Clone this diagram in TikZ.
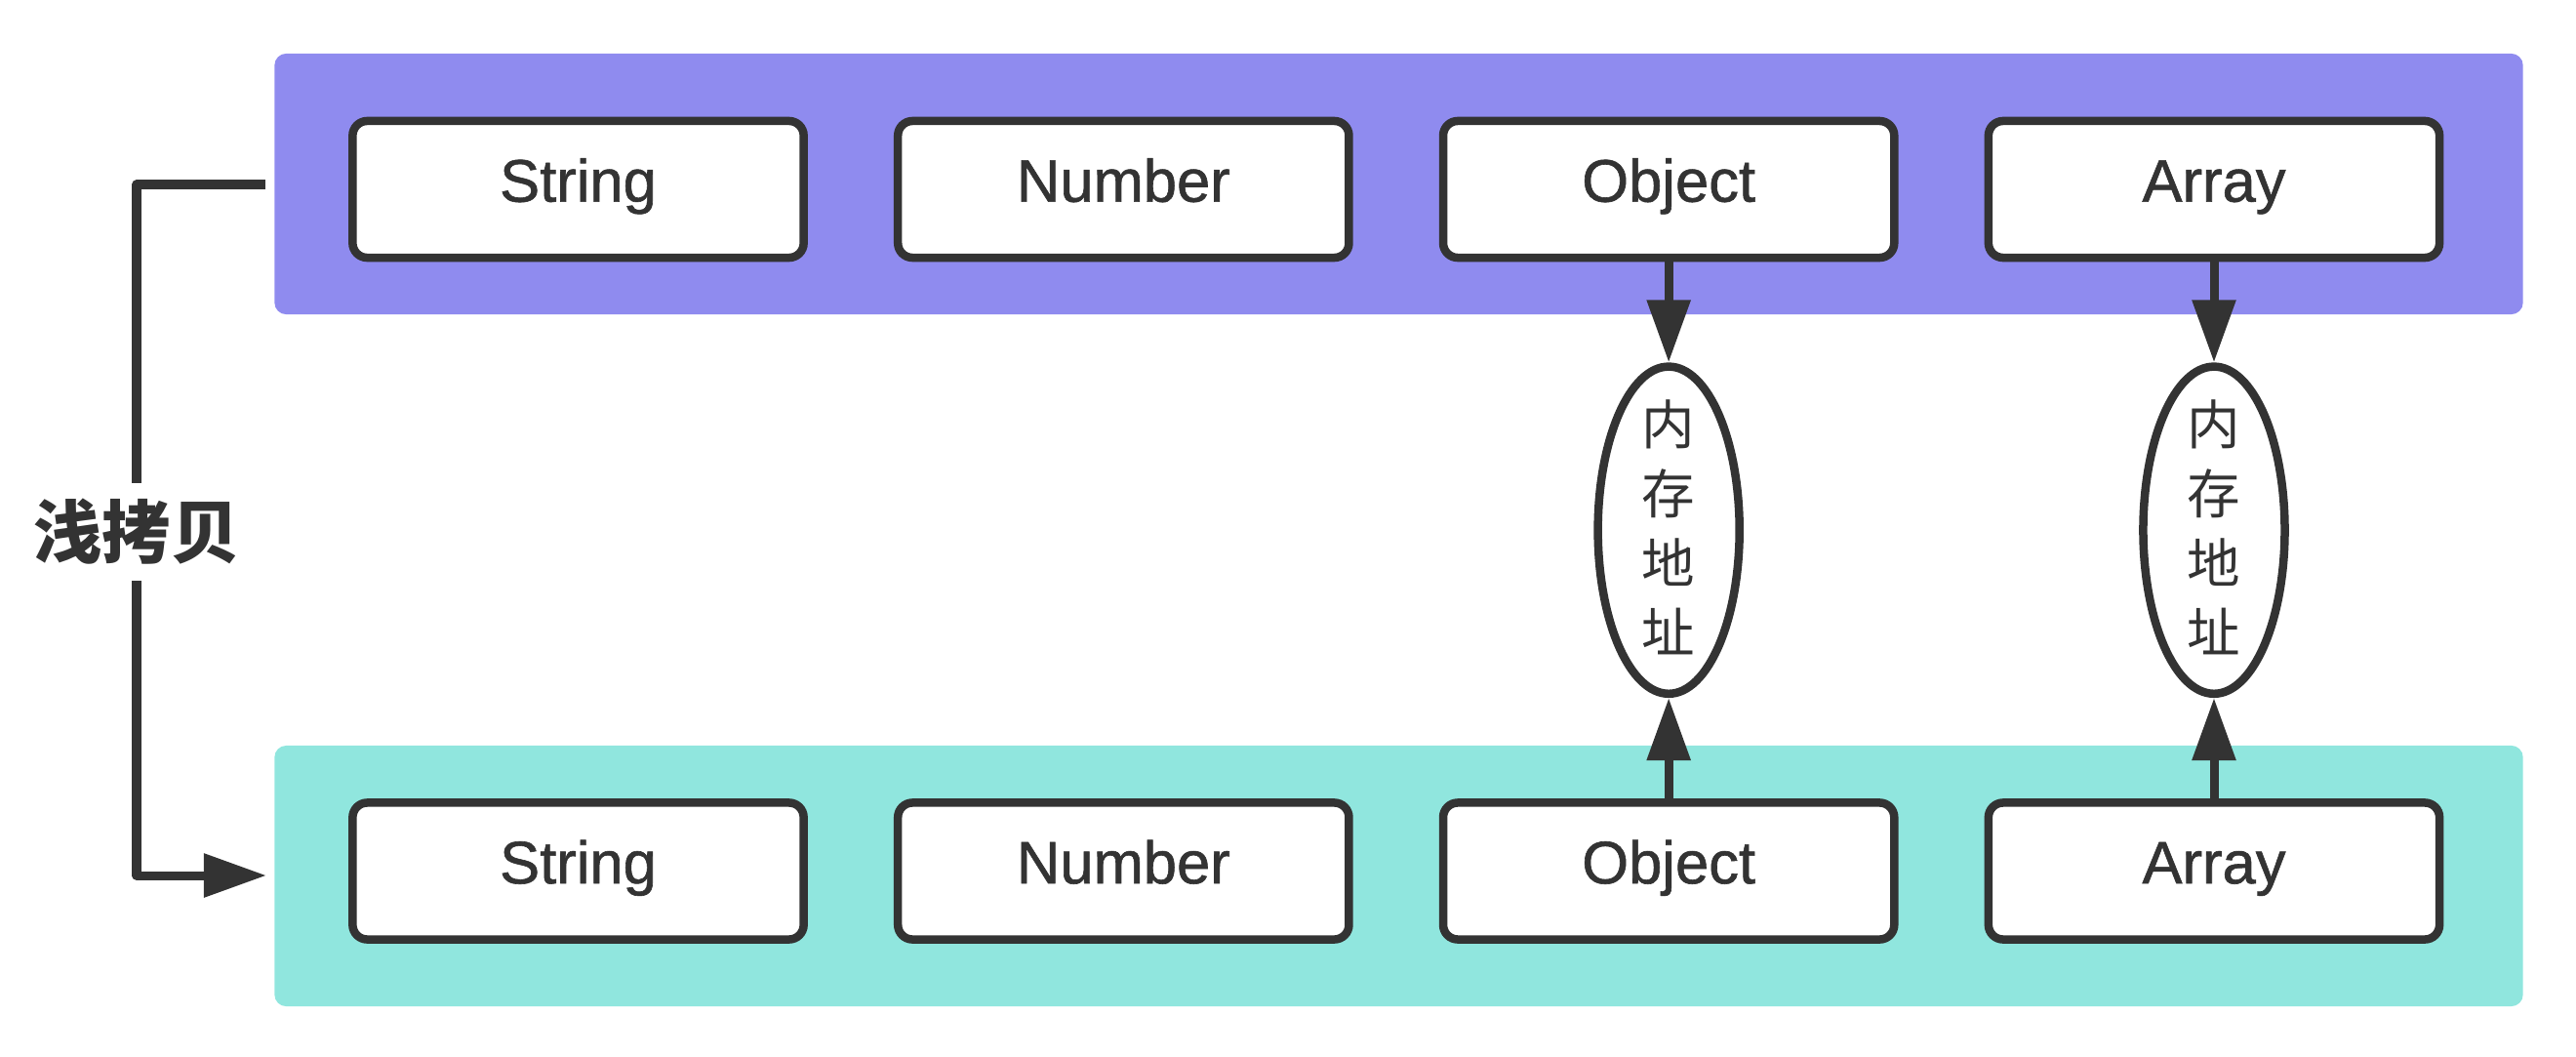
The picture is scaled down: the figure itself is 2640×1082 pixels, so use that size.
\documentclass[tikz,border=0pt]{standalone}
\usepackage{fontspec}
\setmainfont{Liberation Sans}
\newfontfamily\fieldfont{Liberation Sans}[FakeBold=1]
\newfontfamily\cjkfont{Noto Sans CJK SC}
\usetikzlibrary{positioning}
\usetikzlibrary{shapes, arrows.meta}
\definecolor{ink}{HTML}{333333}
\definecolor{origin}{HTML}{8F8BEF}
\definecolor{copied}{HTML}{90E6DE}

\begin{document}
\begin{tikzpicture}[x=0.01cm, y=-0.01cm, auto, node distance=0.88cm]
    \tikzstyle{panel} = [rectangle, rounded corners=0.12cm, inner sep=0pt,
    minimum width=23.03cm, minimum height=2.67cm];
    \tikzstyle{field} = [draw=ink, fill=white, rectangle, rounded corners=0.15cm,
    line width=0.085cm, minimum width=4.62cm, minimum height=1.4cm,
    text height=0.72em, text depth=0pt,
    text=ink, font=\fieldfont\fontsize{17.5}{20}\selectfont];
    \tikzstyle{addr} = [draw=ink, fill=white, ellipse, line width=0.085cm,
    minimum width=1.45cm, minimum height=3.35cm, inner sep=0pt];
    \tikzstyle{addrtext} = [text=ink, align=center,
    font=\cjkfont\fontsize{15.5}{20.2}\selectfont];
    \tikzstyle{wire} = [draw=ink, line width=0.09cm, line join=round];
    \tikzstyle{line} = [wire, -{Triangle[length=0.64cm, width=0.43cm]}];
    \useasboundingbox (0,0) rectangle (2640,1082);
    % the two rows
    \node [panel, fill=origin] (orig) at (1433.5,188.5) {};
    \node [panel, fill=copied] (copy) at (1433.5,897.5) {};
    \node [field] (str1) at (592.5,194) {String};
    \node [field, right=of str1] (num1) {Number};
    \node [field, right=of num1] (obj1) {Object};
    \node [field, right=of obj1] (arr1) {Array};
    \node [field] (str2) at (592.5,892.5) {String};
    \node [field, right=of str2] (num2) {Number};
    \node [field, right=of num2] (obj2) {Object};
    \node [field, right=of obj2] (arr2) {Array};
    % shared addresses
    \node [addr, below=1.03cm of obj1] (addr1) {};
    \node [addr, below=1.03cm of arr1] (addr2) {};
    \node [addrtext] (addr1txt) at ([yshift=0.03cm]addr1) {内\\存\\地\\址};
    \node [addrtext] (addr2txt) at ([yshift=0.03cm]addr2) {内\\存\\地\\址};
    \draw [line] (obj1) -- (addr1);
    \draw [line] (arr1) -- (addr2);
    \draw [line] (obj2) -- (addr1);
    \draw [line] (arr2) -- (addr2);
    % copy bracket
    \node [text=ink, inner sep=0.16cm,
    font=\cjkfont\bfseries\fontsize{20}{24}\selectfont] (shallow) at (140,545) {浅拷贝};
    \coordinate (from) at (272,189);
    \coordinate (to) at (273,897);
    \draw [wire] (from) -| (shallow);
    \draw [line] (shallow) |- (to);
\end{tikzpicture}
\end{document}
